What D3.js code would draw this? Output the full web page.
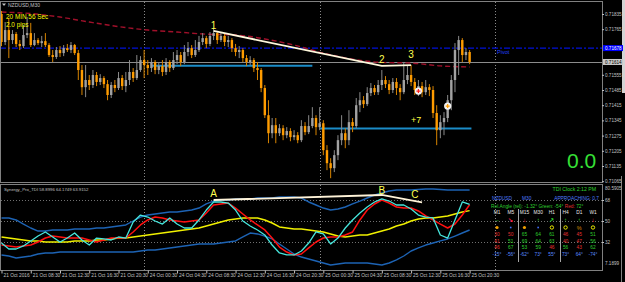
<!DOCTYPE html>
<html>
<head>
<meta charset="utf-8">
<script src="https://d3js.org/d3.v7.min.js"></script>
<style>
html, body { margin: 0; padding: 0; background: #000; }
svg { display: block; }
text { font-family: "Liberation Sans", Arial, sans-serif; }
</style>
</head>
<body>
<svg id="chart" width="625" height="282"></svg>
<script>
// ---- values ----
var symbolTitle = "NZDUSD,M30";
var tdiTitle = "Synergy_Pro_TDI 58.8996 64.1749 63.9152";

var timeLabels = ["21 Oct 2016", "21 Oct 08:30", "21 Oct 12:30", "21 Oct 16:30", "21 Oct 20:30",
  "24 Oct 00:30", "24 Oct 04:30", "24 Oct 08:30", "24 Oct 12:30", "24 Oct 16:30", "24 Oct 20:30",
  "25 Oct 00:30", "25 Oct 04:30", "25 Oct 08:30", "25 Oct 12:30", "25 Oct 16:30", "25 Oct 20:30"];
var timeLabelBars = [0, 8, 16, 24, 32, 40, 48, 56, 64, 72, 80, 88, 96, 104, 112, 120, 128];
var daySeparatorBars = [39, 87, 135];

// 0.71695 and 0.71625 sit under the pivot / price boxes
var priceTicks = [0.71835, 0.71765, 0.71555, 0.71485, 0.71415, 0.71345,
  0.71275, 0.71205, 0.71135, 0.71065];

// o, h, l, c
var candles = [
[0.71835,0.71849,0.71687,0.71706],[0.71706,0.71798,0.71692,0.71761],[0.71761,0.71817,0.71632,0.71715],
[0.71715,0.71761,0.71697,0.71743],[0.71743,0.71752,0.71683,0.71697],[0.71697,0.71715,0.71669,0.71687],
[0.71687,0.71784,0.71678,0.71738],[0.71738,0.71821,0.71724,0.71747],[0.71747,0.71794,0.71683,0.71692],
[0.71692,0.71747,0.71687,0.71715],[0.71715,0.71724,0.71692,0.71701],[0.71701,0.71734,0.71683,0.71710],
[0.71710,0.71747,0.71683,0.71692],[0.71692,0.71701,0.71637,0.71646],[0.71646,0.71669,0.71614,0.71637],
[0.71637,0.71683,0.71628,0.71669],[0.71669,0.71687,0.71637,0.71655],[0.71655,0.71692,0.71641,0.71678],
[0.71678,0.71697,0.71660,0.71669],[0.71669,0.71706,0.71655,0.71692],[0.71692,0.71697,0.71646,0.71655],
[0.71655,0.71669,0.71531,0.71577],[0.71577,0.71600,0.71462,0.71498],[0.71498,0.71600,0.71452,0.71531],
[0.71531,0.71554,0.71485,0.71508],[0.71508,0.71577,0.71494,0.71554],[0.71554,0.71568,0.71503,0.71522],
[0.71522,0.71558,0.71508,0.71540],[0.71540,0.71549,0.71494,0.71512],[0.71512,0.71531,0.71438,0.71462],
[0.71462,0.71522,0.71448,0.71508],[0.71508,0.71531,0.71475,0.71494],[0.71494,0.71568,0.71485,0.71540],
[0.71540,0.71554,0.71485,0.71503],[0.71503,0.71568,0.71475,0.71531],[0.71531,0.71623,0.71508,0.71568],
[0.71568,0.71586,0.71522,0.71540],[0.71540,0.71646,0.71531,0.71577],[0.71577,0.71641,0.71568,0.71623],
[0.71623,0.71669,0.71540,0.71600],[0.71600,0.71623,0.71554,0.71586],[0.71586,0.71632,0.71568,0.71614],
[0.71614,0.71623,0.71558,0.71577],[0.71577,0.71614,0.71558,0.71595],[0.71595,0.71623,0.71549,0.71568],
[0.71568,0.71632,0.71554,0.71614],[0.71614,0.71623,0.71568,0.71586],[0.71586,0.71660,0.71577,0.71623],
[0.71623,0.71669,0.71604,0.71646],[0.71646,0.71660,0.71595,0.71614],[0.71614,0.71692,0.71604,0.71660],
[0.71660,0.71706,0.71641,0.71678],[0.71678,0.71692,0.71632,0.71646],[0.71646,0.71715,0.71637,0.71669],
[0.71669,0.71734,0.71660,0.71706],[0.71706,0.71747,0.71692,0.71724],[0.71724,0.71734,0.71678,0.71697],
[0.71697,0.71752,0.71687,0.71734],[0.71734,0.71770,0.71715,0.71747],[0.71747,0.71752,0.71697,0.71715],
[0.71715,0.71752,0.71706,0.71734],[0.71734,0.71743,0.71687,0.71706],[0.71706,0.71734,0.71683,0.71715],
[0.71715,0.71724,0.71660,0.71678],[0.71678,0.71697,0.71641,0.71660],[0.71660,0.71687,0.71632,0.71669],
[0.71669,0.71678,0.71614,0.71632],[0.71632,0.71646,0.71595,0.71614],[0.71614,0.71641,0.71600,0.71623],
[0.71623,0.71632,0.71568,0.71586],[0.71586,0.71614,0.71531,0.71577],[0.71577,0.71586,0.71475,0.71494],
[0.71494,0.71508,0.71356,0.71369],[0.71369,0.71438,0.71240,0.71286],[0.71286,0.71356,0.71263,0.71323],
[0.71323,0.71356,0.71240,0.71286],[0.71286,0.71328,0.71273,0.71309],[0.71309,0.71323,0.71254,0.71277],
[0.71277,0.71314,0.71263,0.71296],[0.71296,0.71309,0.71249,0.71268],[0.71268,0.71300,0.71254,0.71277],
[0.71277,0.71291,0.71240,0.71254],[0.71254,0.71346,0.71245,0.71319],[0.71319,0.71337,0.71277,0.71291],
[0.71291,0.71369,0.71282,0.71319],[0.71319,0.71406,0.71309,0.71356],[0.71356,0.71369,0.71277,0.71314],
[0.71314,0.71406,0.71300,0.71332],[0.71332,0.71346,0.71185,0.71208],[0.71208,0.71231,0.71116,0.71148],
[0.71148,0.71171,0.71079,0.71125],[0.71125,0.71208,0.71107,0.71185],[0.71185,0.71277,0.71162,0.71254],
[0.71254,0.71369,0.71231,0.71286],[0.71286,0.71309,0.71217,0.71254],[0.71254,0.71392,0.71231,0.71337],
[0.71337,0.71356,0.71291,0.71319],[0.71319,0.71448,0.71309,0.71415],[0.71415,0.71475,0.71383,0.71438],
[0.71438,0.71457,0.71402,0.71420],[0.71420,0.71498,0.71411,0.71471],[0.71471,0.71517,0.71457,0.71494],
[0.71494,0.71508,0.71462,0.71475],[0.71475,0.71531,0.71462,0.71508],[0.71508,0.71577,0.71485,0.71531],
[0.71531,0.71549,0.71494,0.71512],[0.71512,0.71531,0.71466,0.71485],[0.71485,0.71540,0.71471,0.71522],
[0.71522,0.71540,0.71462,0.71494],[0.71494,0.71512,0.71438,0.71475],[0.71475,0.71614,0.71466,0.71531],
[0.71531,0.71600,0.71512,0.71554],[0.71554,0.71600,0.71503,0.71522],[0.71522,0.71540,0.71462,0.71485],
[0.71485,0.71531,0.71457,0.71503],[0.71503,0.71522,0.71452,0.71475],[0.71475,0.71531,0.71462,0.71498],
[0.71498,0.71512,0.71457,0.71485],[0.71485,0.71503,0.71356,0.71379],[0.71379,0.71415,0.71231,0.71300],
[0.71300,0.71369,0.71263,0.71337],[0.71337,0.71383,0.71277,0.71356],[0.71356,0.71462,0.71337,0.71438],
[0.71438,0.71554,0.71392,0.71531],[0.71531,0.71701,0.71475,0.71669],[0.71669,0.71734,0.71554,0.71715],
[0.71715,0.71724,0.71614,0.71646],[0.71646,0.71678,0.71623,0.71660],[0.71660,0.71669,0.71604,0.71614]
];

// moving average (dashed dark red), one value every 8 bars
var maBars = [0, 8, 16, 24, 32, 40, 48, 56, 64, 72, 80, 88, 96, 104, 112, 120, 128];
var maValues = [0.71844, 0.71837, 0.71821, 0.71798, 0.71777, 0.71761, 0.71752, 0.71742, 0.71738,
  0.71720, 0.71692, 0.71655, 0.71627, 0.71612, 0.71609, 0.71596, 0.71591];

var pivotPrice = 0.71678;
var waveLine = [[58, 0.71757], [104, 0.71596], [112, 0.71600]];
var waveLabels = [["1", 58, 0.71766], ["2", 104, 0.71609], ["3", 112, 0.71632]];
var levelLines = [[41, 85, 0.71597], [87, 128.5, 0.71308]];
var signalMarks = [[114, 0.71480, "#ff2020"], [122, 0.71411, "#ff9c00"]];
var pipsLabel = ["+7", 112, 0.71333];
var timerText = ["20 MIN 56 Sec", "2.0 pips"];
var bigValue = "0.0";

// TDI, one value every 2 bars (bars 0..128)
var tdiRsi = [31.1, 26.0, 26.0, 28.6, 32.9, 37.1, 40.6, 36.3, 32.0, 35.4, 39.7, 33.7, 29.4, 35.4, 34.6, 33.7,
  36.3, 35.4, 49.1, 55.1, 53.4, 50.0, 47.4, 52.6, 47.4, 44.0, 44.0, 50.9, 59.4, 66.3, 66.3, 65.4, 59.4, 50.0,
  45.7, 42.3, 38.0, 29.4, 22.6, 20.9, 20.9, 24.3, 31.1, 40.6, 38.9, 30.3, 35.4, 44.0, 50.9, 56.9, 62.0, 66.3,
  68.9, 67.1, 63.7, 63.7, 60.3, 55.1, 53.4, 52.6, 38.0, 35.4, 50.9, 66.3, 64.2];
var tdiSignal = [29.4, 28.6, 27.7, 28.6, 29.4, 32.0, 35.4, 37.1, 36.3, 35.4, 35.4, 35.4, 33.7, 32.0, 33.7, 35.4,
  35.4, 35.4, 40.6, 46.6, 50.9, 53.4, 52.6, 50.9, 50.0, 49.1, 50.0, 50.9, 56.9, 63.7, 64.6, 65.4, 61.1, 56.0,
  50.9, 46.6, 42.3, 35.4, 27.7, 23.4, 20.9, 21.7, 26.9, 32.0, 35.4, 36.3, 36.3, 38.0, 40.6, 50.9, 59.4, 64.6,
  68.0, 65.4, 62.0, 61.1, 61.1, 58.6, 54.3, 50.9, 47.4, 44.0, 47.4, 55.1, 63.9];
var tdiBase = [36.3, 35.4, 34.6, 33.7, 32.9, 32.9, 32.0, 32.0, 32.0, 32.0, 32.9, 32.9, 32.9, 33.7, 33.7, 34.6,
  35.4, 35.4, 36.3, 37.1, 38.0, 38.9, 39.7, 40.6, 41.4, 42.3, 43.1, 44.0, 45.7, 47.4, 49.1, 50.9, 51.7, 52.6,
  52.6, 52.6, 50.9, 48.3, 44.9, 44.0, 43.1, 43.1, 42.3, 41.4, 40.6, 38.9, 37.1, 36.3, 37.1, 38.0, 38.0, 39.7,
  41.4, 43.1, 45.7, 47.4, 50.0, 51.7, 52.6, 52.6, 53.4, 54.3, 56.0, 57.7, 58.9];
var tdiUpper = [52.6, 52.6, 50.9, 47.4, 44.0, 41.4, 41.4, 42.3, 42.3, 42.3, 43.1, 43.1, 43.1, 44.0, 44.0, 44.9,
  45.7, 46.6, 50.0, 53.4, 55.1, 56.0, 56.9, 57.7, 57.7, 58.6, 59.4, 61.1, 64.6, 67.1, 68.0, 68.0, 68.9, 68.9,
  68.9, 69.7, 69.7, 69.7, 70.6, 70.6, 70.6, 69.7, 66.3, 63.7, 61.1, 59.4, 60.3, 62.0, 64.6, 67.1, 69.7, 72.3,
  74.0, 75.7, 76.6, 76.6, 76.6, 77.0, 77.4, 77.4, 77.0, 76.6, 76.6, 76.6, 76.6];
var tdiLower = [20.9, 20.0, 18.3, 19.1, 20.0, 21.7, 22.6, 22.6, 23.4, 23.4, 23.4, 23.4, 23.4, 23.4, 23.4, 23.4,
  23.4, 23.4, 23.4, 24.3, 25.1, 25.1, 26.0, 26.9, 27.7, 28.6, 29.4, 30.3, 30.3, 30.3, 31.1, 32.0, 32.9, 36.3,
  39.7, 38.9, 37.1, 34.6, 30.3, 26.0, 21.7, 19.1, 17.4, 15.7, 14.0, 12.3, 13.1, 14.0, 14.0, 14.0, 14.0, 13.1,
  12.3, 14.0, 16.6, 20.0, 24.3, 26.9, 29.4, 31.1, 32.9, 34.6, 37.1, 39.7, 42.3];
var tdiLevels = [68, 50, 32];
var tdiRange = [80.5905, 7.1899];
var tdiTrend = [[58, 68.0], [104, 72.3], [115, 66.0]];
var tdiTrendLabels = [["A", 58, 70.6], ["B", 104, 73.1], ["C", 113, 69.7]];

// info panel
var panelClock = "TDI Clock 2:12 PM";
var panelSymbol = ["NZDUSD", "M30", "APPROACHING: 0.7"];
var timeframes = ["M1", "M5", "M15", "M30", "H1", "H4", "D1", "W1"];
var tfArrows = ["\u2192", "\u2198", "\u2193", "\u2191", "\u2197", "\u2191", "\u2191", "\u2193"];
var tfArrowUp = [true, false, false, true, true, true, true, false];
var tfDots = ["dot", "sq", "dot", "sq", "ring", "ring", "pct", "ring"];
var tfRsi = [30, 50, 65, 64, 61, 46, 45, 51];
var tfSignal = [41, 51, 69, 64, 63, 40, 47, 56];
var tfBase = [46, 67, 53, 59, 46, 56, 43, 62];
var tfAngle = [-15, -56, -62, 73, 55, 73, 64, -74];

// ---- drawing ----
var svg = d3.select("#chart");
var grey = "#c0c0c0";
var bullColor = "#a2a2a2", bearColor = "#ff9c00";
var green = "#2ed02e", red = "#e43030", blue = "#4f7dff";

var x = d3.scaleLinear().domain([0, 164.2]).range([1.5, 602]);
var yMain = d3.scaleLinear().domain([0.71835, 0.71135]).range([14, 166]);
var yTdi = d3.scaleLinear().domain([68, 32]).range([200, 242]);

var defs = svg.append("defs");
defs.append("clipPath").attr("id", "clipMain").append("rect")
  .attr("x", 1).attr("y", 2).attr("width", 601).attr("height", 180);
defs.append("clipPath").attr("id", "clipSub").append("rect")
  .attr("x", 1).attr("y", 185).attr("width", 601).attr("height", 85);

svg.append("rect").attr("width", 625).attr("height", 282).attr("fill", "#000");

// frames
svg.append("rect").attr("x", 0.5).attr("y", 1.5).attr("width", 602).attr("height", 181)
  .attr("fill", "none").attr("stroke", "#808080");
svg.append("rect").attr("x", 0.5).attr("y", 184.5).attr("width", 602).attr("height", 86)
  .attr("fill", "none").attr("stroke", "#808080");
svg.append("rect").attr("x", 622).attr("y", 0).attr("width", 3).attr("height", 93).attr("fill", "#d4d4d4");
svg.append("line").attr("x1", 621.5).attr("x2", 621.5).attr("y1", 176).attr("y2", 282).attr("stroke", "#808080");

// day separators
svg.selectAll(".daysep").data(daySeparatorBars).enter().append("line")
  .attr("x1", function(d) { return Math.round(x(d)) + 0.5; })
  .attr("x2", function(d) { return Math.round(x(d)) + 0.5; })
  .attr("y1", 2).attr("y2", 270)
  .attr("stroke", "#8a8a8a").attr("stroke-dasharray", "1,2");

var main = svg.append("g").attr("clip-path", "url(#clipMain)");

// pivot line and current price line
main.append("line").attr("x1", 0).attr("x2", 602)
  .attr("y1", yMain(pivotPrice)).attr("y2", yMain(pivotPrice))
  .attr("stroke", "#0010d8").attr("stroke-width", 1.2).attr("stroke-dasharray", "6,2,2,2");
var lastClose = candles[candles.length - 1][3];
main.append("line").attr("x1", 0).attr("x2", 602)
  .attr("y1", Math.round(yMain(lastClose)) + 0.5).attr("y2", Math.round(yMain(lastClose)) + 0.5)
  .attr("stroke", "#8c8c8c");
main.append("text").attr("x", x(135.5)).attr("y", yMain(pivotPrice) + 6)
  .attr("fill", "#2040ff").attr("font-size", 5.5).text("Pivot");

// moving average
var maLine = d3.line().x(function(d) { return x(d[0]); }).y(function(d) { return yMain(d[1]); })
  .curve(d3.curveMonotoneX);
main.append("path").datum(maBars.map(function(b, i) { return [b, maValues[i]]; }))
  .attr("d", maLine).attr("fill", "none").attr("stroke", "#a0102a")
  .attr("stroke-width", 1.4).attr("stroke-dasharray", "5,3");

// levels
main.selectAll(".lvl").data(levelLines).enter().append("line")
  .attr("x1", function(d) { return x(d[0]); }).attr("x2", function(d) { return x(d[1]); })
  .attr("y1", function(d) { return yMain(d[2]); }).attr("y2", function(d) { return yMain(d[2]); })
  .attr("stroke", "#1b8cc8").attr("stroke-width", 2);

// candles
var bw = 2.4;
var cg = main.selectAll(".candle").data(candles).enter().append("g");
cg.append("line")
  .attr("x1", function(d, i) { return x(i); }).attr("x2", function(d, i) { return x(i); })
  .attr("y1", function(d) { return yMain(d[1]); }).attr("y2", function(d) { return yMain(d[2]); })
  .attr("stroke", function(d) { return d[3] >= d[0] ? "#8a8a8a" : "#d88400"; }).attr("stroke-width", 1);
cg.append("rect")
  .attr("x", function(d, i) { return x(i) - bw / 2; })
  .attr("y", function(d) { return yMain(Math.max(d[0], d[3])); })
  .attr("width", bw)
  .attr("height", function(d) { return Math.max(1, Math.abs(yMain(d[0]) - yMain(d[3]))); })
  .attr("fill", function(d) { return d[3] >= d[0] ? bullColor : bearColor; });

// wave trendline
var ptLine = d3.line().x(function(d) { return x(d[0]); }).y(function(d) { return yMain(d[1]); });
main.append("path").datum(waveLine).attr("d", ptLine)
  .attr("fill", "none").attr("stroke", "#fff8dc").attr("stroke-width", 1.8);
main.selectAll(".wlab").data(waveLabels).enter().append("text")
  .attr("x", function(d) { return x(d[1]); }).attr("y", function(d) { return yMain(d[2]); })
  .attr("text-anchor", "middle").attr("fill", "#ffff50")
  .attr("font-family", "Liberation Serif, serif").attr("font-size", 10)
  .text(function(d) { return d[0]; });

// signal marks
var sg = main.selectAll(".sig").data(signalMarks).enter().append("g")
  .attr("transform", function(d) { return "translate(" + x(d[0]) + "," + yMain(d[1]) + ")"; });
sg.append("circle").attr("r", 3.6).attr("fill", "#f4f4f4");
sg.append("path").attr("d", "M-2,0H2M0,-2V2").attr("stroke", function(d) { return d[2]; }).attr("stroke-width", 1.2);

main.append("text").attr("x", x(pipsLabel[1])).attr("y", yMain(pipsLabel[2]))
  .attr("fill", "#ffff40").attr("font-size", 9).text(pipsLabel[0]);

// titles and timer
svg.append("path").attr("d", "M2,3.5H6L4,6Z").attr("fill", grey);
svg.append("text").attr("x", 8).attr("y", 7).attr("fill", grey).attr("font-size", 5).text(symbolTitle);
svg.selectAll(".timer").data(timerText).enter().append("text")
  .attr("x", 6).attr("y", function(d, i) { return 18.5 + i * 8.5; })
  .attr("fill", "#ffff00").attr("font-family", "Liberation Mono, monospace").attr("font-size", 6.4)
  .text(function(d) { return d; });
svg.append("text").attr("x", 567).attr("y", 168).attr("fill", "#36e036")
  .attr("font-size", 21).text(bigValue);

// price axis
var pAxis = svg.append("g").attr("transform", "translate(602,0)")
  .call(d3.axisRight(yMain).tickValues(priceTicks).tickFormat(d3.format(".5f")).tickSize(2).tickPadding(1));
pAxis.select(".domain").remove();
pAxis.selectAll("line").attr("stroke", grey);
pAxis.selectAll("text").attr("fill", grey).attr("font-size", 4.6).attr("font-family", "Liberation Sans, sans-serif");

function priceBox(p, bg, fg) {
  var yy = yMain(p);
  svg.append("rect").attr("x", 603).attr("y", yy - 3).attr("width", 20).attr("height", 6).attr("fill", bg);
  svg.append("text").attr("x", 605).attr("y", yy + 1.7).attr("fill", fg).attr("font-size", 4.6)
    .text(d3.format(".5f")(p));
}
priceBox(pivotPrice, "#0000ff", "#ffffff");
priceBox(lastClose, "#c8c8c8", "#000000");

// ---- TDI sub window ----
var sub = svg.append("g").attr("clip-path", "url(#clipSub)");
sub.selectAll(".lev").data(tdiLevels).enter().append("line")
  .attr("x1", 1).attr("x2", 602)
  .attr("y1", function(d) { return Math.round(yTdi(d)) + 0.5; })
  .attr("y2", function(d) { return Math.round(yTdi(d)) + 0.5; })
  .attr("stroke", "#707070").attr("stroke-dasharray", "1,2");

var tdiLine = d3.line().x(function(d, i) { return x(i * 2); }).y(function(d) { return yTdi(d); });
var series = [
  [tdiUpper, "#1d63b4", 1.4],
  [tdiLower, "#1d63b4", 1.4],
  [tdiBase, "#f0f000", 1.5],
  [tdiSignal, "#ff1010", 1.5],
  [tdiRsi, "#46e6dc", 1.3]
];
sub.selectAll(".tdi").data(series).enter().append("path")
  .attr("d", function(d) { return tdiLine(d[0]); })
  .attr("fill", "none").attr("stroke", function(d) { return d[1]; })
  .attr("stroke-width", function(d) { return d[2]; }).attr("stroke-linejoin", "round");

var trLine = d3.line().x(function(d) { return x(d[0]); }).y(function(d) { return yTdi(d[1]); });
sub.append("path").datum(tdiTrend).attr("d", trLine)
  .attr("fill", "none").attr("stroke", "#fff3d8").attr("stroke-width", 1.8);
svg.selectAll(".tlab").data(tdiTrendLabels).enter().append("text")
  .attr("x", function(d) { return x(d[1]); }).attr("y", function(d) { return yTdi(d[2]); })
  .attr("text-anchor", "middle").attr("fill", "#ffff50")
  .attr("font-family", "Liberation Serif, serif").attr("font-size", 10)
  .text(function(d) { return d[0]; });

svg.append("text").attr("x", 4).attr("y", 191).attr("fill", grey).attr("font-size", 4.3).text(tdiTitle);

var sAxis = svg.append("g").attr("transform", "translate(602,0)")
  .call(d3.axisRight(yTdi).tickValues(tdiLevels).tickFormat(d3.format("d")).tickSize(2).tickPadding(1));
sAxis.select(".domain").remove();
sAxis.selectAll("line").attr("stroke", grey);
sAxis.selectAll("text").attr("fill", grey).attr("font-size", 4.6).attr("font-family", "Liberation Sans, sans-serif");
svg.append("text").attr("x", 605).attr("y", yTdi(tdiRange[0]) + 4.5).attr("fill", grey).attr("font-size", 4.6)
  .text(d3.format(".4f")(tdiRange[0]));
svg.append("text").attr("x", 605).attr("y", yTdi(tdiRange[1]) - 6).attr("fill", grey).attr("font-size", 4.6)
  .text(d3.format(".4f")(tdiRange[1]));

// time axis
var tAxis = svg.append("g").attr("transform", "translate(0,270.5)")
  .call(d3.axisBottom(x).tickValues(timeLabelBars)
    .tickFormat(function(d, i) { return timeLabels[i]; }).tickSize(3).tickPadding(1));
tAxis.select(".domain").remove();
tAxis.selectAll("line").attr("stroke", grey);
tAxis.selectAll("text").attr("fill", grey).attr("font-size", 4.8)
  .attr("font-family", "Liberation Sans, sans-serif").attr("text-anchor", "start").attr("dx", 1.5).attr("dy", "0.5em");

// info panel
var colX = d3.scalePoint().domain(timeframes).range([497, 593]);
var fs = 4.8;
svg.append("text").attr("x", 596).attr("y", 191).attr("text-anchor", "end")
  .attr("fill", green).attr("font-size", 5.2).text(panelClock);
svg.append("text").attr("x", 492).attr("y", 200).attr("fill", blue).attr("font-size", fs).text(panelSymbol[0]);
svg.append("text").attr("x", 522).attr("y", 200).attr("fill", blue).attr("font-size", fs).text(panelSymbol[1]);
svg.append("text").attr("x", 599).attr("y", 200).attr("text-anchor", "end").attr("fill", blue).attr("font-size", fs).text(panelSymbol[2]);
var angleRow = svg.append("text").attr("x", 491).attr("y", 207.5).attr("font-size", fs);
angleRow.append("tspan").attr("fill", green).text("Rel.Angle (rel): -1.32\u00b0  Green: -54\u00b0  ");
angleRow.append("tspan").attr("fill", red).text("Red: ");
angleRow.append("tspan").attr("fill", green).text("72\u00b0");

[518, 560].forEach(function(sx) {
  svg.append("line").attr("x1", sx + 0.5).attr("x2", sx + 0.5).attr("y1", 209).attr("y2", 262)
    .attr("stroke", "#d0d0d0").attr("stroke-width", 0.8);
});

var cols = svg.selectAll(".tf").data(timeframes).enter().append("g")
  .attr("transform", function(d) { return "translate(" + colX(d) + ",0)"; });
cols.append("text").attr("y", 214).attr("text-anchor", "middle").attr("fill", "#e8e8e8")
  .attr("font-size", fs).text(function(d) { return d; });
cols.append("text").attr("y", 221.5).attr("text-anchor", "middle").attr("font-family", "DejaVu Sans, sans-serif")
  .attr("font-weight", "bold").attr("font-size", 6)
  .attr("fill", function(d, i) { return tfArrowUp[i] ? green : "#ff2a55"; })
  .text(function(d, i) { return tfArrows[i]; });
cols.each(function(d, i) {
  var g = d3.select(this), t = tfDots[i];
  if (t === "dot") g.append("circle").attr("cy", 227.5).attr("r", 1.6).attr("fill", "#f0a000");
  else if (t === "sq") g.append("rect").attr("x", -0.8).attr("y", 226.7).attr("width", 1.6).attr("height", 1.6).attr("fill", "#4070ff");
  else if (t === "ring") g.append("circle").attr("cy", 227.5).attr("r", 1.7).attr("fill", "none").attr("stroke", "#ffff00").attr("stroke-width", 0.9);
  else g.append("text").attr("y", 229.5).attr("text-anchor", "middle").attr("fill", "#d08a00").attr("font-size", 5.5).text("%");
});
var rows = [[tfRsi, 236], [tfSignal, 242.5], [tfBase, 249]];
rows.forEach(function(r) {
  cols.append("text").attr("y", r[1]).attr("text-anchor", "middle").attr("font-size", fs)
    .attr("fill", function(d, i) { return r[0][i] > 50 ? green : red; })
    .text(function(d, i) { return r[0][i]; });
});
cols.append("text").attr("y", 256).attr("text-anchor", "middle").attr("font-size", fs)
  .attr("fill", "#5a8cff").text(function(d, i) { return tfAngle[i] + "\u00b0"; });
</script>
</body>
</html>
